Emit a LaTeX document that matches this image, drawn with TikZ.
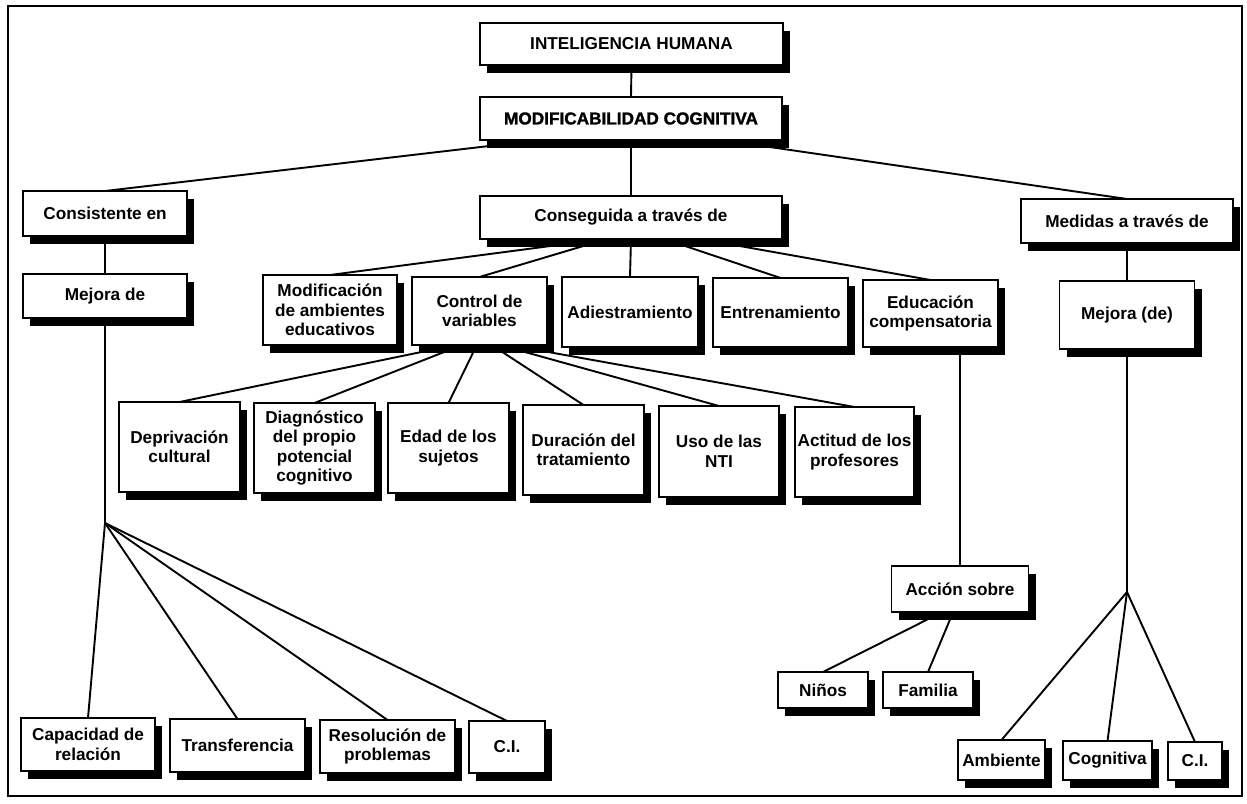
\documentclass[tikz,border=0pt]{standalone}
\usepackage{fontspec}
\setmainfont{Liberation Sans}
\newfontfamily\heavyfont{Liberation Sans}[UprightFeatures={FakeBold=1.5},BoldFeatures={FakeBold=1.5}]
\usetikzlibrary{shadows,backgrounds,calc}

\begin{document}
\begin{tikzpicture}[x=1pt,y=1pt,yscale=-1, inner sep=0pt, outer sep=0pt,
    box/.style={draw=black,fill=white,line width=1.5pt,align=center,
      font=\fontsize{17.2}{19.5}\selectfont\bfseries,
      drop shadow={shadow xshift=7pt,shadow yshift=-8pt,opacity=1,fill=black}},
    bsize/.style 2 args={minimum width=#1,minimum height=#2},
    link/.style={draw=black,line width=1.9pt}]
  \useasboundingbox (0,0) rectangle (1247,803);
  \path[draw=black,line width=2.5pt] (8,6) rectangle (1242,796);

  \node[box,bsize={303pt}{42pt}] (ih) at (631.5,44) {INTELIGENCIA HUMANA};
  \node[box,bsize={302pt}{43pt}] (mod) at (631,118.5) {\heavyfont\bfseries MODIFICABILIDAD COGNITIVA};
  \node[box,bsize={302pt}{43pt}] (cons) at (631,217.5) {Conseguida a través de};
  \node[box,bsize={164pt}{45pt}] (cen) at (105,213.5) {Consistente en};
  \node[box,bsize={164pt}{44pt}] (mej) at (105,296) {Mejora de};
  \node[box,bsize={212pt}{44pt}] (med) at (1127,221) {Medidas a través de};
  \node[box,bsize={135pt}{68pt}] (mejd) at (1127,315) {Mejora (de)};

  \node[box,bsize={134pt}{70pt}] (modamb) at (330,310) {Modificación\\de ambientes\\educativos};
  \node[box,bsize={135pt}{68pt}] (ctrl) at (479.5,311) {Control de\\variables};
  \node[box,bsize={136pt}{70pt}] (adi) at (630,312) {Adiestramiento};
  \node[box,bsize={135pt}{69pt}] (ent) at (780.5,312.5) {Entrenamiento};
  \node[box,bsize={135pt}{67pt}] (edu) at (930.5,313.5) {Educación\\compensatoria};

  \node[box,bsize={121pt}{90pt}] (dep) at (179.5,447) {Deprivación\\cultural};
  \node[box,bsize={121pt}{90pt}] (diag) at (314.5,448) {Diagnóstico\\del propio\\potencial\\cognitivo};
  \node[box,bsize={121pt}{90pt}] (edad) at (448.5,448) {Edad de los\\sujetos};
  \node[box,bsize={121pt}{90pt}] (dur) at (583.5,450) {Duración del\\tratamiento};
  \node[box,bsize={120pt}{91pt}] (nti) at (719,451.5) {Uso de las\\NTI};
  \node[box,bsize={119pt}{90pt}] (act) at (854.5,452) {Actitud de los\\profesores};

  \node[box,bsize={134pt}{53pt}] (cap) at (88,744.5) {Capacidad de\\relación};
  \node[box,bsize={135pt}{53pt}] (tra) at (237.5,745.5) {Transferencia};
  \node[box,bsize={135pt}{53pt}] (res) at (387.5,746.5) {Resolución de\\problemas};
  \node[box,bsize={76pt}{52pt}] (cia) at (507,747) {C.I.};

  \node[box,bsize={137pt}{46pt}] (acc) at (960,589) {Acción sobre};
  \node[box,bsize={90pt}{36pt}] (nin) at (823,690) {Niños};
  \node[box,bsize={90pt}{36pt}] (fam) at (928,690) {Familia};
  \node[box,bsize={87pt}{40pt}] (amb) at (1001.5,760) {Ambiente};
  \node[box,bsize={89pt}{39pt}] (cog) at (1107.5,760.5) {Cognitiva};
  \node[box,bsize={54pt}{38pt}] (cib) at (1195,761) {C.I.};

  \coordinate (fanl) at (105,523);
  \coordinate (fanr) at (1127,592);

  \begin{scope}[on background layer]
    \path[link] (ih.south) -- (mod.north);
    \path[link] ($(mod.south west)!0.2!(mod.south east)$) -- (cen.north);
    \path[link] (mod.south) -- (cons.north);
    \path[link] ($(mod.south west)!0.8!(mod.south east)$) -- (med.north);
    \path[link] (cen.south) -- (mej.north);
    \path[link] (med.south) -- (mejd.north);
    \path[link] ($(cons.south west)!0.41!(cons.south east)$) -- (modamb.north);
    \path[link] ($(cons.south west)!0.42!(cons.south east)$) -- (ctrl.north);
    \path[link] (cons.south) -- (adi.north);
    \path[link] ($(cons.south west)!0.61!(cons.south east)$) -- (ent.north);
    \path[link] ($(cons.south west)!0.73!(cons.south east)$) -- (edu.north);
    \path[link] ($(ctrl.south west)!0.32!(ctrl.south east)$) -- (dep.north);
    \path[link] ($(ctrl.south west)!0.37!(ctrl.south east)$) -- (diag.north);
    \path[link] ($(ctrl.south west)!0.48!(ctrl.south east)$) -- (edad.north);
    \path[link] ($(ctrl.south west)!0.59!(ctrl.south east)$) -- (dur.north);
    \path[link] ($(ctrl.south west)!0.65!(ctrl.south east)$) -- (nti.north);
    \path[link] ($(ctrl.south west)!0.72!(ctrl.south east)$) -- (act.north);
    \path[link] (mej.south) -- (fanl);
    \path[link] (fanl) -- (cap.north);
    \path[link] (fanl) -- (tra.north);
    \path[link] (fanl) -- (res.north);
    \path[link] (fanl) -- (cia.north);
    \path[link] (acc.north |- edu.south) -- (acc.north);
    \path[link] ($(acc.south west)!0.37!(acc.south east)$) -- (nin.north);
    \path[link] ($(acc.south west)!0.45!(acc.south east)$) -- (fam.north);
    \path[link] (mejd.south) -- (fanr);
    \path[link] (fanr) -- (amb.north);
    \path[link] (fanr) -- (cog.north);
    \path[link] (fanr) -- (cib.north);
  \end{scope}

\end{tikzpicture}
\end{document}
